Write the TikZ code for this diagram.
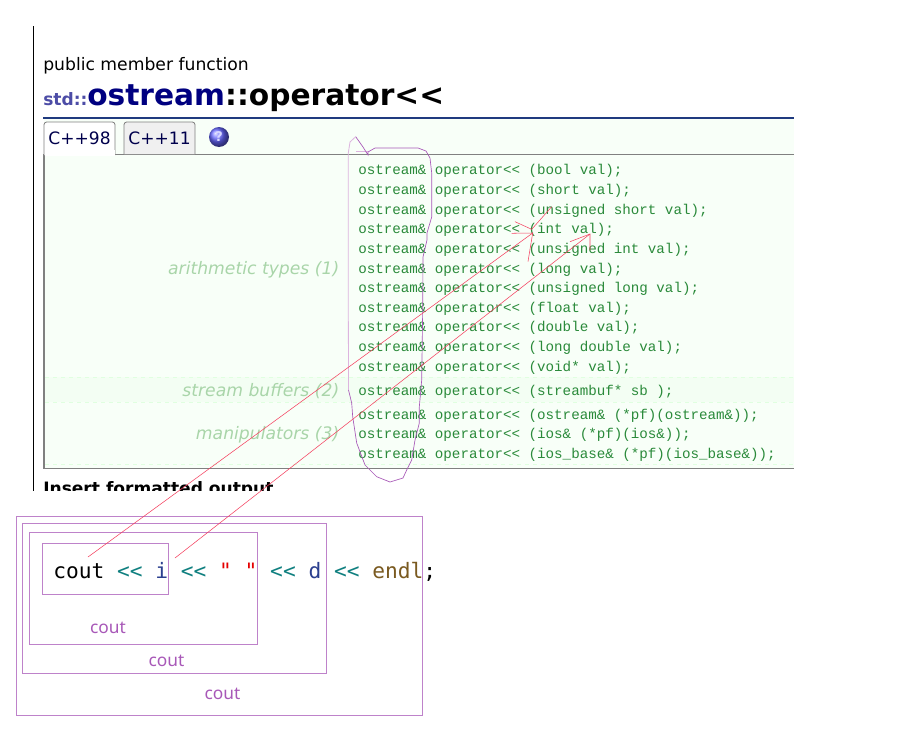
\documentclass[tikz,border=0pt]{standalone}
\usepackage{fontspec}
\usepackage{xcolor}
\setmainfont{DejaVu Sans}
\setmonofont{Liberation Mono}
\newfontfamily\codefont{DejaVu Sans Mono}
\newfontfamily\notefont{Noto Sans}
\definecolor{panelbg}{HTML}{F8FFF8}
\definecolor{bandbg}{HTML}{F3FEF3}
\definecolor{sigtext}{HTML}{2A8A3A}
\definecolor{grouptext}{HTML}{A9D5A9}
\definecolor{rulecol}{HTML}{1F3A7F}
\definecolor{framecol}{HTML}{808080}
\definecolor{inklight}{HTML}{DDB4DF}
\definecolor{inkdark}{HTML}{A858B8}
\definecolor{inkred}{HTML}{F5405F}
\definecolor{codeblue}{HTML}{2B3F8F}
\definecolor{codeteal}{HTML}{0F7F7F}
\definecolor{codebrown}{HTML}{7A5A20}
\tikzset{
  sig/.style={anchor=base west, inner sep=0pt, text=sigtext, font=\ttfamily\fontsize{10.65}{12}\selectfont},
  grouplabel/.style={anchor=base east, inner sep=0pt, text=grouptext, font=\itshape\fontsize{12.9}{15}\selectfont},
  tabbox/.style={draw=framecol, line width=0.6pt, rounded corners=2pt},
  tablabel/.style={inner sep=0pt, text=blue!30!black, font=\fontsize{12.8}{15}\selectfont},
  scopebox/.style={draw=inkdark!75, line width=0.6pt},
  scopelabel/.style={inner sep=0pt, text=inkdark, font=\notefont\fontsize{13}{15}\selectfont},
  scribble/.style={draw=inkred, line width=0.4pt}
}
\begin{document}
\begin{tikzpicture}[x=0.75pt,y=-0.75pt]
  \useasboundingbox (0,0) rectangle (915,746);
  \fill[white] (0,0) rectangle (915,746);

  \draw[black, line width=0.8pt] (33.5,26) -- (33.5,491);
  \node[anchor=base west, inner sep=0pt, font=\fontsize{12.9}{15}\selectfont] (kind) at (43,70) {public member function};
  \node[anchor=base west, inner sep=0pt, text=blue!50!black!70, font=\bfseries\fontsize{12.8}{15}\selectfont] (nsname) at (43,105) {std::};
  \node[anchor=base west, inner sep=0pt, font=\bfseries\fontsize{22.25}{26}\selectfont] (title) at (87,105) {\textcolor{blue!50!black}{ostream}::operator<{}<};

  % panel
  \fill[panelbg] (44,119) rectangle (794,468);
  \fill[bandbg] (45,377) rectangle (794,402);
  \draw[green!12!white, dashed, line width=0.3pt] (45,377) -- (794,377) (45,402) -- (794,402) (45,464) -- (794,464);
  \draw[framecol, line width=0.8pt] (794,154.5) -- (44,154.5) -- (44,468.5) -- (794,468.5);
  \draw[rulecol, line width=2.1pt] (43,118) -- (794,118);

  \draw[tabbox, fill=white] (44,155) |- (115,122) -- (115,155);
  \fill[white] (45,150) rectangle (114.5,156);
  \draw[tabbox, fill=black!6] (124,154) |- (195,122) -- (195,154);
  \node[tablabel] (tabold) at (79.5,138) {C++98};
  \node[tablabel] (tabnew) at (159.5,138) {C++11};
  \shade[ball color=blue!60!white] (219,137) circle (10);
  \node[inner sep=0pt, text=white!85!blue, font=\bfseries\fontsize{10}{12}\selectfont] (help) at (219,137) {?};

  \node[grouplabel] (arith) at (339.5,274) {arithmetic types (1)};
  \node[grouplabel] (buffers) at (339.5,396) {stream buffers (2)};
  \node[grouplabel] (manip) at (339.5,439.5) {manipulators (3)};

  \foreach \n/\y/\txt in {1/174.5/bool val,2/194.5/short val,3/214/unsigned short val,4/233.5/int val,
      5/253.5/unsigned int val,6/273/long val,7/292.5/unsigned long val,8/312/float val,
      9/331.5/double val,10/351.5/long double val,11/371/void* val,12/395/streambuf* sb ,
      13/419/ostream\& (*pf)(ostream\&),14/438.5/ios\& (*pf)(ios\&),15/458/ios\_base\& (*pf)(ios\_base\&)}
    \node[sig] (sig\n) at (358,\y) {ostream\& operator<{}< (\txt);};

  \node[anchor=base west, inner sep=0pt, font=\bfseries\fontsize{12.8}{15}\selectfont] (insert) at (43,494) {Insert formatted output};
  \fill[white] (0,490.5) rectangle (915,512);

  % hand drawn outline round the return types
  \draw[inklight, line width=0.6pt] (356,151) -- (368,151);
  \draw[inklight, line width=0.6pt] (348.5,390) -- (348.3,300) -- (348.3,153) -- (350,142) -- (355.7,136.7);
  \draw[inkdark, line width=0.5pt] (355.7,136.7) -- (363,147) -- (368,155) -- (368,152) -- (375,148) -- (418,148)
    -- (426,151) -- (430,158) -- (431.7,173) -- (431.7,217) -- (427,233) -- (427,240) -- (423,257) -- (422.7,310)
    -- (421.7,380) -- (419.3,407) -- (419.3,423) -- (415,440) -- (411.7,460) -- (406.7,470) -- (403,478)
    -- (390,482) -- (376.7,476.7) -- (365,465) -- (356.7,443) -- (352.7,416.7) -- (351.7,403) -- (348.5,390);

  % scopes of the chained calls
  \draw[scopebox] (16,516) rectangle (422,715);
  \draw[scopebox] (22,523) rectangle (326,673);
  \draw[scopebox] (29,532) rectangle (257,644);
  \node[scopebox, minimum width=94.5pt, minimum height=38.25pt, anchor=north west, inner sep=0pt] (inner) at (42,543) {};
  \node[anchor=base west, inner sep=0pt, font=\codefont\fontsize{15.9}{20}\selectfont] (code) at (53,578)
    {cout \textcolor{codeteal}{<{}<} \textcolor{codeblue}{i} \textcolor{codeteal}{<{}<} \textcolor{red!90!black}{" "} \textcolor{codeteal}{<{}<} \textcolor{codeblue}{d} \textcolor{codeteal}{<{}<} \textcolor{codebrown}{endl};};
  \node[scopelabel] (coutc) at (108,628) {cout};
  \node[scopelabel] (coutb) at (166.5,661) {cout};
  \node[scopelabel] (couta) at (222.5,694) {cout};

  % red arrows
  \coordinate (tipa) at (532.7,233);
  \coordinate (tipb) at (590,234);
  \draw[scribble] (88,557) -- (tipa);
  \draw[scribble] (175,558) -- (tipb);
  \draw[scribble] (515,221.7) -- (531.7,229.3) -- (551.7,206.7);
  \draw[scribble] (511.7,233.3) -- (tipa) -- (530.7,245) -- (528,261.7);
  \draw[scribble] (570,241.7) -- (tipb) -- (590,250);
\end{tikzpicture}
\end{document}
